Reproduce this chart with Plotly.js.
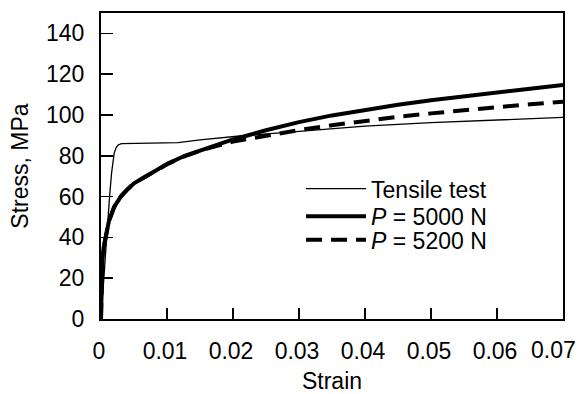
<!DOCTYPE html>
<html>
<head>
<meta charset="utf-8">
<script src="https://cdn.plot.ly/plotly-3.0.1.min.js"></script>
<style>html,body{margin:0;padding:0;background:#fff;}#chart{width:579px;height:394px;}</style>
</head>
<body>
<div id="chart"></div>
<script>
// Tensile test (thin line)
const tensileStrain = [0, 0.0003, 0.0006, 0.001, 0.0013, 0.0016, 0.002, 0.0023, 0.0026, 0.0031, 0.006, 0.009, 0.0117, 0.015, 0.021, 0.03, 0.04, 0.05, 0.06, 0.07];
const tensileStress = [0, 15, 30, 47, 60, 71.5, 81.3, 84, 85.3, 86, 86.2, 86.3, 86.5, 87.8, 89.7, 92, 94.5, 96.3, 97.7, 98.8];

// P = 5000 N (thick solid)
const p5000Strain = [0, 0.00005, 0.0001, 0.0002, 0.0004, 0.0008, 0.0012, 0.002, 0.003, 0.004, 0.005, 0.0067, 0.0085, 0.0102, 0.0127, 0.0155, 0.02, 0.025, 0.03, 0.035, 0.04, 0.045, 0.05, 0.055, 0.06, 0.065, 0.07];
const p5000Stress = [0, 18, 25, 30, 35, 43, 48, 55, 60, 63.5, 66.5, 69.7, 73, 76.3, 80, 83, 88, 92.5, 96.5, 99.8, 102.6, 105, 107.2, 109.2, 111.1, 112.9, 114.7];

// P = 5200 N (thick dashed)
const p5200Strain = [0, 0.00005, 0.0001, 0.0002, 0.0004, 0.0008, 0.0012, 0.002, 0.003, 0.004, 0.005, 0.0067, 0.0085, 0.0102, 0.0127, 0.0155, 0.02, 0.025, 0.03, 0.035, 0.04, 0.045, 0.05, 0.055, 0.06, 0.065, 0.07];
const p5200Stress = [0, 18, 25, 30, 35, 43, 48, 55, 60, 63.5, 66.5, 69.7, 73, 76.2, 79.8, 83, 87, 90, 92.6, 95, 97.2, 99.1, 100.8, 102.4, 104, 105.3, 106.5];

const seriesNames = ['Tensile test', '<i>P</i> = 5000 N', '<i>P</i> = 5200 N'];
const xTicks = [0, 0.01, 0.02, 0.03, 0.04, 0.05, 0.06, 0.07];
const xTickLabels = ['0', '0.01', '0.02', '0.03', '0.04', '0.05', '0.06', '0.07'];
const yTicks = [0, 20, 40, 60, 80, 100, 120, 140];

const font = 'Arial, "Liberation Sans", sans-serif';
const last = xTicks.length - 1;
// the last tick label sits at the figure's right edge, so it is right-aligned (as in the original) via an annotation
const xTickText = xTickLabels.map((t, i) => (i === last ? '' : t));

const traces = [
  {x: tensileStrain, y: tensileStress, name: seriesNames[0], mode: 'lines', line: {color: '#000', width: 1.3}, legend: 'legend'},
  {x: p5000Strain, y: p5000Stress, name: seriesNames[1], mode: 'lines', line: {color: '#000', width: 4}, legend: 'legend2'},
  {x: p5200Strain, y: p5200Stress, name: seriesNames[2], mode: 'lines', line: {color: '#000', width: 4, dash: '16px,9px'}, legend: 'legend3'}
];

function legendAt(y) {
  return {x: 0.433, y: y, xanchor: 'left', yanchor: 'middle', bgcolor: 'rgba(0,0,0,0)', itemwidth: 60, font: {size: 23}};
}

const layout = {
  width: 579, height: 394,
  margin: {l: 101, r: 16, t: 13, b: 75},
  paper_bgcolor: '#fff', plot_bgcolor: '#fff',
  font: {family: font, size: 23, color: '#000'},
  showlegend: true,
  legend: legendAt(0.426),
  legend2: legendAt(0.336),
  legend3: legendAt(0.259),
  xaxis: {
    range: [0, 0.07], tickvals: xTicks, ticktext: xTickText,
    ticks: 'inside', ticklen: 11, tickwidth: 1.5, tickcolor: '#000',
    showline: true, linewidth: 2, linecolor: '#000', mirror: true,
    showgrid: false, zeroline: false, ticklabelstandoff: 10, ticklabelshift: -2,
    title: {text: 'Strain', font: {size: 23}, standoff: 11}
  },
  yaxis: {
    range: [0, 150], tickvals: yTicks,
    ticks: 'inside', ticklen: 12, tickwidth: 1.5, tickcolor: '#000',
    showline: true, linewidth: 2, linecolor: '#000', mirror: true,
    showgrid: false, zeroline: false, ticklabelstandoff: 10,
    title: {text: 'Stress, MPa', font: {size: 23}, standoff: 11}
  },
  annotations: [{
    text: xTickLabels[last], x: xTicks[last], xref: 'x', y: 0, yref: 'paper',
    xanchor: 'right', yanchor: 'middle', xshift: 15, yshift: -31, showarrow: false,
    font: {size: 23, color: '#000'}
  }]
};

Plotly.newPlot('chart', traces, layout, {displayModeBar: false, staticPlot: true});
</script>
</body>
</html>
